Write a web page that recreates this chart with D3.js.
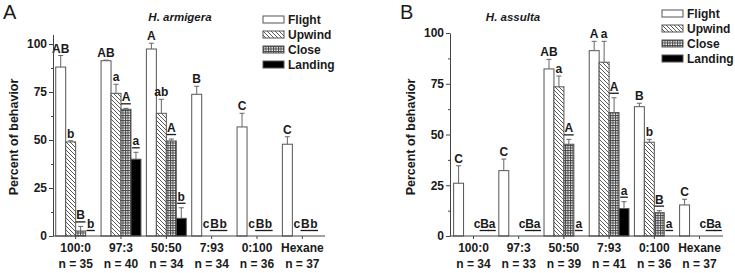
<!DOCTYPE html>
<html>
<head>
<meta charset="utf-8">
<script src="https://cdn.jsdelivr.net/npm/d3@7"></script>
<style>
  body { margin: 0; background: #fff; }
  text { font-family: "Liberation Sans", Arial, sans-serif; font-weight: bold; fill: #1a1a1a; }
</style>
</head>
<body>
<div id="container"></div>
<script>
/* DATA */
const groups = ["100:0", "97:3", "50:50", "7:93", "0:100", "Hexane"]
const seriesNames = ["Flight", "Upwind", "Close", "Landing"]

// panel A - H. armigera
const nA = [35, 40, 34, 34, 36, 37]
const flightA = [88, 91.3, 97.4, 73.8, 56.8, 47.8]
const flightSeA = [6, 0.3, 3, 4.2, 7.1, 3.9]
const upwindA = [49, 74.3, 63.9, 0, 0, 0]
const upwindSeA = [0.6, 4.7, 7.3, 0, 0, 0]
const closeA = [2.6, 66, 49.5, 0, 0, 0]
const closeSeA = [2.4, 0.5, 1, 0, 0, 0]
const landingA = [0, 40, 9.2, 0, 0, 0]
const landingSeA = [0, 3.6, 5.5, 0, 0, 0]
const flightLetA = ["AB", "AB", "A", "B", "C", "C"]
const upwindLetA = ["b", "a", "ab", "c", "c", "c"]
const closeLetA = ["B", "A", "A", "B", "B", "B"]
const landingLetA = ["b", "a", "b", "b", "b", "b"]

// panel B - H. assulta
const nB = [34, 33, 39, 41, 36, 37]
const flightB = [26, 32.2, 82.3, 91.3, 63.7, 15.3]
const flightSeB = [8.6, 5.7, 4.7, 4.6, 1.7, 2.8]
const upwindB = [0, 0, 73.5, 85.6, 46.2, 0]
const upwindSeB = [0, 0, 5.3, 10.3, 1.4, 0]
const closeB = [0, 0, 45.2, 60.8, 11.5, 0]
const closeSeB = [0, 0, 2.4, 7.3, 1, 0]
const landingB = [0, 0, 0, 13.5, 0, 0]
const landingSeB = [0, 0, 0, 3.4, 0, 0]
const flightLetB = ["C", "C", "AB", "A", "B", "C"]
const upwindLetB = ["c", "c", "a", "a", "b", "c"]
const closeLetB = ["B", "B", "A", "A", "B", "B"]
const landingLetB = ["a", "a", "a", "a", "a", "a"]

const yTicks = [0, 25, 50, 75, 100]
const yMinor = [12.5, 37.5, 62.5, 87.5]

/* SVG */
const width = 735, height = 273
const svg = d3.select("#container").append("svg")
  .attr("width", width).attr("height", height)

const defs = svg.append("defs")
// diagonal hatch for upwind
const hatch = defs.append("pattern").attr("id", "hatch")
  .attr("patternUnits", "userSpaceOnUse").attr("width", 4).attr("height", 4)
hatch.append("rect").attr("width", 4).attr("height", 4).attr("fill", "#fff")
hatch.append("path").attr("d", "M0,0L4,4M-1,3L1,5M3,-1L5,1")
  .attr("stroke", "#333").attr("stroke-width", 0.8)
// fine grid for close
const grid = defs.append("pattern").attr("id", "grid")
  .attr("patternUnits", "userSpaceOnUse").attr("width", 2.5).attr("height", 2.5)
grid.append("rect").attr("width", 2.5).attr("height", 2.5).attr("fill", "#fff")
grid.append("path").attr("d", "M0,0.5H2.5M0.5,0V2.5")
  .attr("stroke", "#444").attr("stroke-width", 1)

const fills = ["#fff", "url(#hatch)", "url(#grid)", "#000"]
const axisColor = "#444"

function drawPanel(p) {
  const g = svg.append("g")
  const y0 = 236

  const x = d3.scaleBand().domain(groups)
    .range([p.left, p.right]).paddingInner(0.12).paddingOuter(p.outer)
  const xs = d3.scaleBand().domain(d3.range(4)).range([0, x.bandwidth()])
  const y = d3.scaleLinear().domain([0, p.yMax]).range([y0, p.top])

  const rows = []
  groups.forEach((grp, i) => {
    const allZero = p.vals[1][i] === 0 && p.vals[2][i] === 0 && p.vals[3][i] === 0
    for (let s = 0; s < 4; s++) {
      rows.push({ grp, i, s, v: p.vals[s][i], se: p.ses[s][i], let: p.lets[s][i], allZero })
    }
  })

  // bars
  g.selectAll(".bar").data(rows.filter(d => d.v > 0)).join("rect")
    .attr("class", "bar")
    .attr("x", d => x(d.grp) + xs(d.s))
    .attr("width", xs.bandwidth())
    .attr("y", d => y(d.v))
    .attr("height", d => y0 - y(d.v))
    .attr("fill", d => fills[d.s])
    .attr("stroke", "#555").attr("stroke-width", 1)

  // error bars (upper only)
  const eb = g.selectAll(".err").data(rows.filter(d => d.se > 0)).join("g").attr("class", "err")
  eb.append("line")
    .attr("x1", d => x(d.grp) + xs(d.s) + xs.bandwidth() / 2)
    .attr("x2", d => x(d.grp) + xs(d.s) + xs.bandwidth() / 2)
    .attr("y1", d => y(d.v)).attr("y2", d => y(d.v + d.se))
    .attr("stroke", "#666")
  eb.append("line")
    .attr("x1", d => x(d.grp) + xs(d.s) + xs.bandwidth() / 2 - 2.5)
    .attr("x2", d => x(d.grp) + xs(d.s) + xs.bandwidth() / 2 + 2.5)
    .attr("y1", d => y(d.v + d.se)).attr("y2", d => y(d.v + d.se))
    .attr("stroke", "#666")

  // significance letters
  rows.forEach(d => {
    let cx, base
    if (d.allZero && d.s > 0) {
      cx = x(d.grp) + xs(2) + xs.bandwidth() / 2 + p.zeroShift + (d.s - 2) * p.zeroGap
      base = y0 - 8
    } else {
      cx = x(d.grp) + xs(d.s) + xs.bandwidth() / 2
      base = (d.v === 0 && d.se === 0) ? y0 - 8 : y(d.v + d.se) - (d.s >= 2 ? 7 : 3)
    }
    const t = g.append("text").attr("x", cx).attr("y", base)
      .attr("text-anchor", "middle").attr("font-size", 12).text(d.let)
    if (d.s >= 2) {
      const w = t.node().getComputedTextLength()
      g.append("line")
        .attr("x1", cx - w / 2 - 0.5).attr("x2", cx + w / 2 + 0.5)
        .attr("y1", base + 2.5).attr("y2", base + 2.5)
        .attr("stroke", "#1a1a1a").attr("stroke-width", 1.3)
    }
  })

  // y axis
  const yAxis = d3.axisLeft(y).tickValues(yTicks).tickSize(4).tickSizeOuter(0).tickPadding(2)
  const ya = g.append("g").attr("transform", `translate(${p.left},0)`).call(yAxis)
  ya.select(".domain").attr("stroke", axisColor)
  ya.selectAll(".tick line").attr("stroke", axisColor)
  ya.selectAll("text").attr("font-size", 12).attr("fill", "#1a1a1a")
    .style("font-family", "'Liberation Sans', Arial, sans-serif").style("font-weight", "bold")
  const ym = g.append("g").attr("transform", `translate(${p.left},0)`)
    .call(d3.axisLeft(y).tickValues(yMinor).tickSize(2).tickFormat(""))
  ym.select(".domain").remove()
  ym.selectAll(".tick line").attr("stroke", axisColor)

  // x axis
  g.append("line").attr("x1", p.left).attr("x2", p.right)
    .attr("y1", y0).attr("y2", y0).attr("stroke", axisColor)
  g.selectAll(".xtick").data(groups).join("line").attr("class", "xtick")
    .attr("x1", d => x(d) + x.bandwidth() / 2).attr("x2", d => x(d) + x.bandwidth() / 2)
    .attr("y1", y0).attr("y2", y0 + 3).attr("stroke", axisColor)
  g.selectAll(".xlab").data(groups).join("text").attr("class", "xlab")
    .attr("x", d => x(d) + x.bandwidth() / 2).attr("y", 252)
    .attr("text-anchor", "middle").attr("font-size", 12).text(d => d)
  g.selectAll(".nlab").data(p.n).join("text").attr("class", "nlab")
    .attr("x", (d, i) => x(groups[i]) + x.bandwidth() / 2).attr("y", 268)
    .attr("text-anchor", "middle").attr("font-size", 12).text(d => `n = ${d}`)

  // y label
  g.append("text")
    .attr("transform", `translate(${p.ylabX},137) rotate(-90)`)
    .attr("text-anchor", "middle").attr("font-size", 12.5).text("Percent of behavior")

  // panel letter and title
  g.append("text").attr("x", p.letterX).attr("y", 19)
    .attr("font-size", 20).style("font-weight", "normal").text(p.letter)
  g.append("text").attr("x", p.titleX).attr("y", 21)
    .attr("text-anchor", "middle").attr("font-size", 11.5).attr("font-style", "italic").text(p.title)

  // legend
  const lg = g.append("g").selectAll("g").data(seriesNames).join("g")
    .attr("transform", (d, i) => `translate(${p.legX},${p.legY + i * 15})`)
  lg.append("rect").attr("width", 21).attr("height", 7)
    .attr("fill", (d, i) => fills[i]).attr("stroke", "#555")
  lg.append("text").attr("x", 25).attr("y", 8).attr("font-size", 12).text(d => d)
}

drawPanel({
  letter: "A", title: "H. armigera", letterX: 3, titleX: 180,
  left: 53, right: 325, outer: 0.06, yMax: 105, top: 34.4, ylabX: 18,
  zeroShift: -2, zeroGap: 8.5, legX: 263, legY: 16,
  n: nA,
  vals: [flightA, upwindA, closeA, landingA],
  ses: [flightSeA, upwindSeA, closeSeA, landingSeA],
  lets: [flightLetA, upwindLetA, closeLetA, landingLetA]
})

drawPanel({
  letter: "B", title: "H. assulta", letterX: 400, titleX: 513,
  left: 450, right: 723, outer: 0.08, yMax: 100, top: 33, ylabX: 415,
  zeroShift: 6, zeroGap: 7.5, legX: 662, legY: 10,
  n: nB,
  vals: [flightB, upwindB, closeB, landingB],
  ses: [flightSeB, upwindSeB, closeSeB, landingSeB],
  lets: [flightLetB, upwindLetB, closeLetB, landingLetB]
})
</script>
</body>
</html>
